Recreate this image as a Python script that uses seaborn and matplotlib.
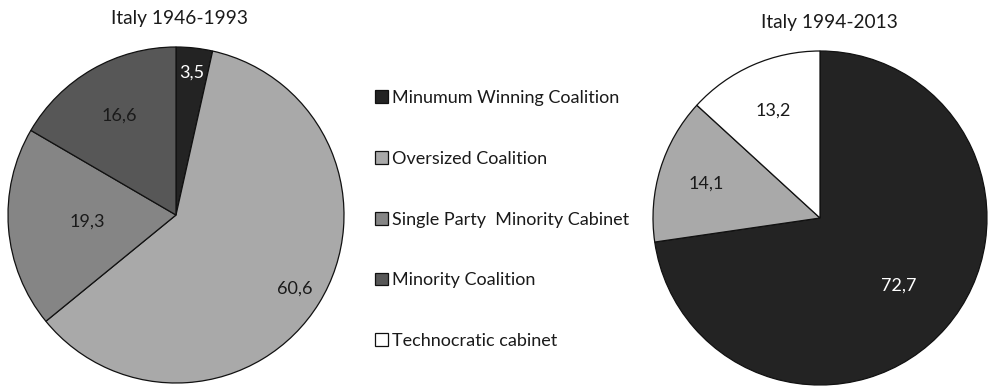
import numpy as np
import matplotlib
matplotlib.use("Agg")
import matplotlib.pyplot as plt
import seaborn as sns
from matplotlib.patches import Patch

sns.set_theme(style="white")
plt.rcParams["font.family"] = ["Lato", "DejaVu Sans"]

# Cabinet types and their shares (%) in the two periods
categories = [
    "Minumum Winning Coalition",
    "Oversized Coalition",
    "Single Party  Minority Cabinet",
    "Minority Coalition",
    "Technocratic cabinet",
]
period_1 = "Italy 1946-1993"
values_1 = [3.5, 60.6, 19.3, 16.6]
labels_1 = ["3,5", "60,6", "19,3", "16,6"]

period_2 = "Italy 1994-2013"
values_2 = [72.7, 14.1, 13.2]
labels_2 = ["72,7", "14,1", "13,2"]

# grey scale per category
palette = {
    "Minumum Winning Coalition": "#232323",
    "Oversized Coalition": "#a9a9a9",
    "Single Party  Minority Cabinet": "#858585",
    "Minority Coalition": "#575757",
    "Technocratic cabinet": "#ffffff",
}
cats_1 = categories[:4]
cats_2 = ["Minumum Winning Coalition", "Oversized Coalition", "Technocratic cabinet"]

W, H = 990, 387
fig = plt.figure(figsize=(W / 100, H / 100), dpi=100)
TXT = "#1a1a1a"


def px_axes(x0, y0, x1, y1):
    return fig.add_axes([x0 / W, 1 - y1 / H, (x1 - x0) / W, (y1 - y0) / H])


def draw_pie(ax, vals, cats, labels, dists, title, title_xy):
    wedges, _ = ax.pie(
        vals,
        colors=[palette[c] for c in cats],
        startangle=90,
        counterclock=False,
        wedgeprops=dict(edgecolor="#111111", linewidth=0.9),
    )
    ax.set_xlim(-1, 1)
    ax.set_ylim(-1, 1)
    for w, lab, d, c in zip(wedges, labels, dists, cats):
        ang = np.deg2rad((w.theta1 + w.theta2) / 2)
        col = "white" if c == "Minumum Winning Coalition" else TXT
        ax.text(d * np.cos(ang), d * np.sin(ang), lab, ha="center",
                va="center", fontsize=13, color=col)
    ax.text(title_xy[0], title_xy[1], title, transform=ax.transAxes,
            ha="center", va="center", fontsize=13.8, color=TXT)
    return wedges


ax1 = px_axes(8, 47, 344, 383)
draw_pie(ax1, values_1, cats_1, labels_1, [0.85, 0.83, 0.53, 0.68],
         period_1, (0.51, 1.086))

ax2 = px_axes(653, 51, 987, 385)
draw_pie(ax2, values_2, cats_2, labels_2, [0.62, 0.71, 0.70],
         period_2, (0.527, 1.084))

handles = [Patch(facecolor=palette[c], edgecolor="#111111", linewidth=0.9)
           for c in categories]
fig.legend(
    handles, categories,
    loc="upper left",
    bbox_to_anchor=(366 / W, 1 - 81 / H),
    frameon=False,
    fontsize=13,
    handlelength=0.72,
    handleheight=0.72,
    handletextpad=0.2,
    labelspacing=2.48,
    borderpad=0,
    labelcolor=TXT,
)

fig.savefig("out.png", dpi=100)
